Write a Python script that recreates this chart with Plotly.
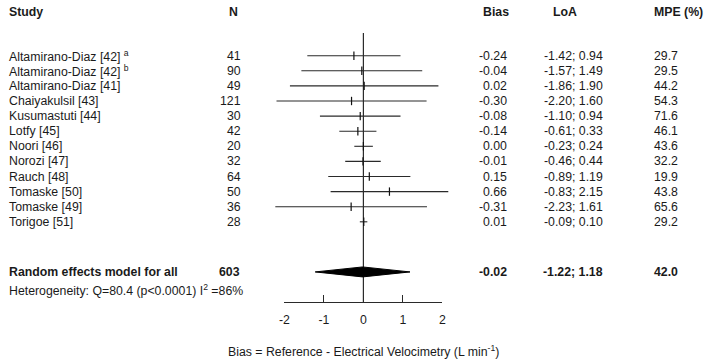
import plotly.graph_objects as go

studies = ["Altamirano-Diaz [42] <sup>a</sup>", "Altamirano-Diaz [42] <sup>b</sup>", "Altamirano-Diaz [41]",
           "Chaiyakulsil [43]", "Kusumastuti [44]", "Lotfy [45]", "Noori [46]", "Norozi [47]",
           "Rauch [48]", "Tomaske [50]", "Tomaske [49]", "Torigoe [51]"]
n_values = [41, 90, 49, 121, 30, 42, 20, 32, 64, 50, 36, 28]
bias = [-0.24, -0.04, 0.02, -0.30, -0.08, -0.14, 0.00, -0.01, 0.15, 0.66, -0.31, 0.01]
loa_low = [-1.42, -1.57, -1.86, -2.20, -1.10, -0.61, -0.23, -0.46, -0.89, -0.83, -2.23, -0.09]
loa_high = [0.94, 1.49, 1.90, 1.60, 0.94, 0.33, 0.24, 0.44, 1.19, 2.15, 1.61, 0.10]
mpe = [29.7, 29.5, 44.2, 54.3, 71.6, 46.1, 43.6, 32.2, 19.9, 43.8, 65.6, 29.2]

summary_label = "Random effects model for all"
summary_n = 603
summary_bias = -0.02
summary_low = -1.22
summary_high = 1.18
summary_mpe = 42.0
heterogeneity = "Heterogeneity: Q=80.4 (p&lt;0.0001) I<sup>2</sup> =86%"
x_ticks = [-2, -1, 0, 1, 2]
x_title = "Bias = Reference - Electrical Velocimetry (L min<sup>-1</sup>)"

W, H = 708, 361
FONT = "Liberation Sans, Arial, sans-serif"
FS = 12.3
TXT = "#1a1a1a"
LINE = "#2a2a2a"

# row layout (row units on y axis)
ROW_HEADER = -2.89
ROW_SUMMARY = 14.32
ROW_HET = 15.52
ROW_ZERO_TOP = -1.5
ROW_AXIS = 16.31
ROW_XTITLE = 19.56

rows = list(range(len(studies)))

fig = go.Figure()

# zero line
fig.add_trace(go.Scatter(x=[0, 0], y=[ROW_ZERO_TOP, ROW_AXIS], mode="lines",
                         line=dict(color=LINE, width=1.2), hoverinfo="skip", showlegend=False))

# limits of agreement lines
xs, ys = [], []
for i in rows:
    xs += [loa_low[i], loa_high[i], None]
    ys += [i, i, None]
fig.add_trace(go.Scatter(x=xs, y=ys, mode="lines", line=dict(color=LINE, width=1.1),
                         hoverinfo="skip", showlegend=False))

# bias markers
fig.add_trace(go.Scatter(x=bias, y=rows, mode="markers",
                         marker=dict(symbol="line-ns", size=6, line=dict(color="#111", width=1.2)),
                         hoverinfo="skip", showlegend=False))

# summary diamond
h = 0.33
fig.add_trace(go.Scatter(
    x=[summary_low, summary_bias, summary_high, summary_bias, summary_low],
    y=[ROW_SUMMARY, ROW_SUMMARY - h, ROW_SUMMARY, ROW_SUMMARY + h, ROW_SUMMARY],
    mode="lines", fill="toself", fillcolor="#000", line=dict(color="#000", width=1),
    hoverinfo="skip", showlegend=False))

# dummy trace for forest x-axis
fig.add_trace(go.Scatter(x=[x_ticks[0], x_ticks[-1]], y=[0, 0], xaxis="x2", yaxis="y2",
                         mode="markers", marker=dict(opacity=0), hoverinfo="skip", showlegend=False))

def px(p):
    return p / W

ann = []
def text(x, y, s, anchor="left", bold=False):
    ann.append(dict(x=px(x), y=y, xref="paper", yref="y", text=f"<b>{s}</b>" if bold else s,
                    showarrow=False, xanchor=anchor, yanchor="middle",
                    font=dict(family=FONT, size=FS, color=TXT)))

# headers
text(2, ROW_HEADER, "Study", bold=True)
text(238, ROW_HEADER, "N", "right", bold=True)
text(482, ROW_HEADER, "Bias", bold=True)
text(553, ROW_HEADER, "LoA", bold=True)
text(655, ROW_HEADER, "MPE (%)", bold=True)

for i in rows:
    text(2, i, studies[i])
    text(241, i, str(n_values[i]), "right")
    text(510, i, f"{bias[i]:.2f}", "right")
    text(608, i, f"{loa_low[i]:.2f}; {loa_high[i]:.2f}", "right")
    text(655, i, f"{mpe[i]:.1f}")

text(2, ROW_SUMMARY, summary_label, bold=True)
text(240, ROW_SUMMARY, str(summary_n), "right", bold=True)
text(510, ROW_SUMMARY, f"{summary_bias:.2f}", "right", bold=True)
text(608, ROW_SUMMARY, f"{summary_low:.2f}; {summary_high:.2f}", "right", bold=True)
text(655, ROW_SUMMARY, f"{summary_mpe:.1f}", bold=True)
text(2, ROW_HET, heterogeneity)

ann.append(dict(x=0, y=ROW_XTITLE, xref="x", yref="y", text=x_title, showarrow=False,
                xanchor="center", yanchor="middle", font=dict(family=FONT, size=FS, color=TXT)))

x0_px, unit_px = 363.0, 40.0
y_top_px, row_px = 55.7, 15.1
axis_px = 302.0

fig.update_layout(
    width=W, height=H, margin=dict(l=0, r=0, t=0, b=0),
    paper_bgcolor="white", plot_bgcolor="rgba(0,0,0,0)",
    font=dict(family=FONT, size=FS, color=TXT),
    xaxis=dict(domain=[0, 1], range=[-x0_px / unit_px, (W - x0_px) / unit_px], visible=False,
               fixedrange=True),
    yaxis=dict(domain=[0, 1], range=[(H - y_top_px) / row_px, -y_top_px / row_px], visible=False,
               fixedrange=True),
    xaxis2=dict(domain=[px(x0_px - 2 * unit_px), px(x0_px + 2 * unit_px)], range=[x_ticks[0], x_ticks[-1]],
                anchor="y2", showline=True, linecolor=LINE, linewidth=1.2, ticks="inside",
                ticklen=7, tickwidth=1.2, tickcolor=LINE, tickvals=x_ticks,
                ticktext=[str(t) for t in x_ticks], showgrid=False, zeroline=False,
                ticklabelstandoff=6, tickfont=dict(family=FONT, size=FS, color=TXT), fixedrange=True),
    yaxis2=dict(domain=[(H - axis_px) / H, (H - axis_px + 4) / H], visible=False, range=[-1, 1],
                fixedrange=True),
    annotations=ann,
)

fig.write_html("out.html", config={"displayModeBar": False},
               post_script="document.body.style.margin='0px';document.body.style.overflow='hidden';")
